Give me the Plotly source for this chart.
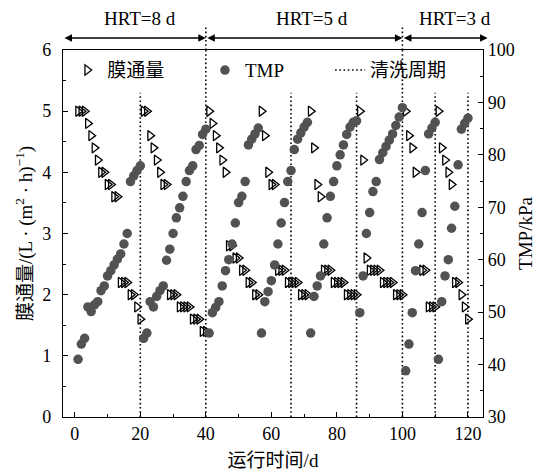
import plotly.graph_objects as go

# ---------------- data ----------------
flux_days = [1, 2, 3, 4, 5, 6, 7, 8, 9, 10, 11, 12, 13, 14, 15, 16, 17, 18, 19, 20,
             21, 22, 23, 24, 25, 26, 27, 28, 29, 30, 31, 32, 33, 34, 35, 36, 37, 38, 39, 40,
             41, 42, 43, 44, 45, 46, 47, 48, 49, 50, 51, 52, 53, 54, 55, 56,
             57, 58, 59, 60, 61, 62, 63, 64, 65, 66, 67, 68, 69, 70, 71,
             72, 73, 74, 75, 76, 77, 78, 79, 80, 81, 82, 83, 84, 85, 86,
             87, 88, 89, 90, 91, 92, 93, 94, 95, 96, 97, 98, 99, 100,
             101, 102, 103, 104, 106, 107, 108, 109, 110,
             111, 112, 113, 114, 115, 116, 117, 118, 119, 120]
flux = [5.0, 5.0, 5.0, 4.8, 4.6, 4.4, 4.2, 4.0, 4.0, 3.8, 3.8, 3.6, 3.6, 2.2, 2.2, 2.2, 2.0, 2.0, 1.8, 1.6,
        5.0, 5.0, 4.6, 4.4, 4.2, 4.0, 3.8, 3.8, 2.0, 2.0, 2.0, 1.8, 1.8, 1.8, 1.8, 1.6, 1.6, 1.6, 1.4, 1.4,
        5.0, 4.8, 4.6, 4.4, 4.2, 4.0, 2.8, 2.8, 2.6, 2.6, 2.4, 2.4, 2.2, 2.2, 2.0, 2.0,
        5.0, 4.6, 4.0, 3.8, 3.8, 2.4, 2.4, 2.4, 2.2, 2.2, 2.2, 2.2, 2.0, 2.0, 2.0,
        5.0, 4.4, 3.8, 3.6, 2.4, 2.4, 2.4, 2.2, 2.2, 2.2, 2.2, 2.0, 2.0, 2.0, 2.0,
        5.0, 4.2, 2.6, 2.4, 2.4, 2.4, 2.4, 2.2, 2.2, 2.2, 2.2, 2.0, 2.0, 2.0,
        5.0, 4.6, 4.4, 4.0, 2.4, 2.4, 1.8, 1.8, 1.8,
        5.0, 4.4, 4.2, 4.0, 3.8, 2.2, 2.2, 2.0, 1.8, 1.6]

tmp_days = list(range(1, 121))
tmp = [41.0, 43.9, 45.0, 51.0, 50.1, 51.4, 52.0, 54.1, 55.0, 56.9, 57.9, 59.0, 60.1, 61.1, 63.0, 65.0, 74.9, 76.0, 77.0, 77.9,
       45.0, 46.0, 52.0, 51.0, 53.0, 54.1, 55.0, 59.9, 62.0, 65.0, 68.0, 69.9, 72.1, 74.9, 77.0, 77.9, 81.0, 81.8, 83.9, 84.9,
       46.0, 49.9, 50.9, 52.0, 55.0, 57.9, 60.0, 63.0, 67.0, 70.9, 72.1, 74.9, 81.9, 83.0, 84.0, 85.1,
       46.0, 52.0, 53.9, 56.0, 59.0, 63.0, 67.0, 70.9, 74.9, 77.0, 81.0, 83.0, 84.2, 85.3, 86.2,
       46.0, 53.0, 55.0, 56.9, 63.0, 68.0, 72.1, 74.9, 77.9, 80.0, 81.9, 83.9, 85.3, 86.2, 86.5,
       49.9, 56.9, 65.0, 69.0, 73.0, 74.9, 79.1, 80.4, 81.6, 82.8, 84.0, 85.6, 87.2, 89.0,
       38.8, 43.9, 49.9, 57.9, 63.0, 69.0, 77.0, 84.0, 85.1, 86.2,
       41.0, 52.0, 56.9, 60.0, 66.0, 70.2, 78.1, 84.9, 86.0, 87.0]

clean_days = [20, 40, 66, 86, 100, 110, 120]
clean_top = [5.3, 6.0, 5.3, 5.3, 6.0, 5.3, 5.3]

hrt_labels = ["HRT=8 d", "HRT=5 d", "HRT=3 d"]
hrt_start = [-3.6, 40, 100]
hrt_end = [40, 100, 126]
hrt_label_x = [19.8, 72.4, 116]

x_ticks = [0, 20, 40, 60, 80, 100, 120]
y1_ticks = [0, 1, 2, 3, 4, 5, 6]
y2_ticks = [30, 40, 50, 60, 70, 80, 90, 100]

# ---------------- figure ----------------
FONT = "Liberation Serif, Times New Roman, Noto Sans CJK SC, serif"
DOT = "1.6px,2.6px"

cx, cy = [], []
for d, t in zip(clean_days, clean_top):
    cx += [d, d, None]
    cy += [0, t, None]

fig = go.Figure()
fig.add_trace(go.Scatter(
    x=cx, y=cy, mode="lines", name="清洗周期", showlegend=True,
    line=dict(color="black", width=1.6, dash=DOT),
    legend="legend3", yaxis="y"))
fig.add_trace(go.Scatter(
    x=tmp_days, y=tmp, mode="markers", name="TMP", showlegend=True,
    marker=dict(symbol="circle", size=9.5, color="#525252"),
    legend="legend2", yaxis="y2"))
fig.add_trace(go.Scatter(
    x=flux_days, y=flux, mode="markers", name="膜通量", showlegend=True,
    marker=dict(symbol="triangle-right-open", size=9, color="black",
                line=dict(width=1.3, color="black")),
    legend="legend", yaxis="y"))

shapes = []
for d in hrt_start[1:]:
    shapes.append(dict(type="line", xref="x", yref="paper", x0=d, x1=d, y0=1.0, y1=1.065,
                       line=dict(color="black", width=1.6, dash=DOT)))

annotations = []
for lab, s, e, lx in zip(hrt_labels, hrt_start, hrt_end, hrt_label_x):
    annotations.append(dict(x=e, y=1.033, xref="x", yref="paper", ax=s, ay=0,
                            axref="x", ayref="pixel", text="", showarrow=True,
                            arrowhead=2, startarrowhead=2, arrowside="end+start",
                            arrowsize=1, arrowwidth=1.5, arrowcolor="black",
                            standoff=0, startstandoff=0))
    annotations.append(dict(x=lx, y=1.087, xref="x", yref="paper", text=lab,
                            showarrow=False, yanchor="middle",
                            font=dict(family=FONT, size=19, color="black")))

axis_common = dict(showline=True, linecolor="black", linewidth=1.3, ticks="inside",
                   ticklen=5, tickwidth=1.2, tickcolor="black", showgrid=False,
                   zeroline=False, automargin=False,
                   tickfont=dict(family=FONT, size=18, color="black"))

leg_common = dict(orientation="h", yanchor="middle", y=0.945, xanchor="left",
                  bgcolor="rgba(0,0,0,0)", font=dict(family=FONT, size=19, color="black"),
                  itemwidth=30)

fig.update_layout(
    width=546, height=474,
    margin=dict(l=63, r=63, t=50, b=57, autoexpand=False),
    paper_bgcolor="white", plot_bgcolor="white",
    showlegend=True,
    font=dict(family=FONT, size=18, color="black"),
    xaxis=dict(range=[-3.6, 124.6], tickvals=x_ticks, mirror=True, ticklabelstandoff=0,
               minor=dict(dtick=10, ticks="inside", ticklen=3, tickcolor="black"),
               title=dict(text="运行时间/d", font=dict(family=FONT, size=19), standoff=10),
               **axis_common),
    yaxis=dict(range=[0, 6], tickvals=y1_ticks, ticklabelstandoff=7,
               minor=dict(dtick=0.5, ticks="inside", ticklen=3, tickcolor="black"),
               title=dict(text="膜通量/(L · (m<sup>2</sup> · h)<sup>−1</sup>)",
                          font=dict(family=FONT, size=19), standoff=4),
               **axis_common),
    yaxis2=dict(range=[30, 100], tickvals=y2_ticks, overlaying="y", side="right",
                minor=dict(dtick=5, ticks="inside", ticklen=3, tickcolor="black"),
                title=dict(text="TMP/kPa", font=dict(family=FONT, size=19), standoff=4),
                **axis_common),
    legend=dict(x=0.01, visible=True, **leg_common),
    legend2=dict(x=0.338, visible=True, **leg_common),
    legend3=dict(x=0.636, visible=True, **leg_common),
    shapes=shapes,
    annotations=annotations,
)

fig.write_html("out.html")
